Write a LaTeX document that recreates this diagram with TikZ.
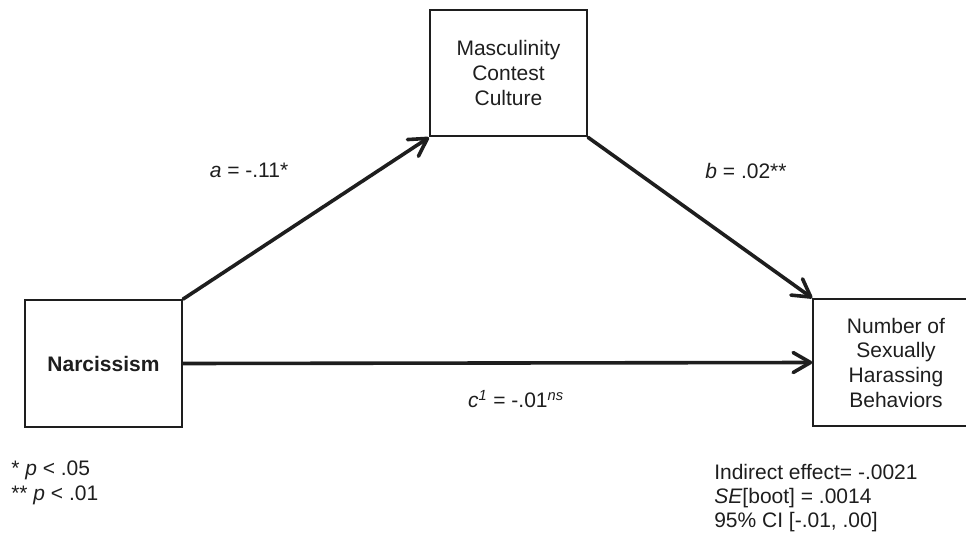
\documentclass[tikz,border=0pt]{standalone}
\usepackage{fontspec}
\setmainfont{Liberation Sans}
\usetikzlibrary{arrows.meta}
\definecolor{ink}{RGB}{30,30,30}

\tikzset{
  varbox/.style={draw=ink, line width=1.6pt, minimum width=117.75pt, minimum height=95pt, align=center, inner sep=0pt, text=ink},
  effect/.style={draw=ink, line width=2.7pt, line cap=round, -{Straight Barb[round,length=13pt,width=15pt]}},
  lbl/.style={inner sep=0.75pt, text=ink}
}

\begin{document}
\begin{tikzpicture}[x=0.75pt,y=0.75pt,yscale=-1,xscale=1, font=\fontsize{15.75}{18.5}\selectfont]

\clip (0,0) rectangle (966,538);

% the three boxes
\draw (103.5,363.5) node (narc) [varbox] {\bfseries Narcissism};
\draw (508.5,73) node (mcc) [varbox] {Masculinity\\Contest\\Culture};
\draw (896,362.5) node (nshb) [varbox, minimum width=124pt] {Number of\\Sexually\\Harassing\\Behaviors};

% paths
\draw [effect] (narc.north east) -- (mcc.south west);
\draw [effect] (mcc.south east) -- (nshb.north west);
\draw [effect] (narc.east) -- (nshb.west);

% coefficients
\draw (249,170) node (alab) [lbl] {\textit{a} = -.11*};
\draw (746,171) node (blab) [lbl] {\textit{b} = .02**};
\draw (516,399) node (clab) [lbl] {\textit{c}\textsuperscript{\textit{1}} = -.01\textsuperscript{\textit{ns}}};

% notes
\draw (10,483) node (signote) [lbl, anchor=west, align=left] {* \textit{p} < .05\\** \textit{p} < .01};
\draw (713,498) node (indnote) [lbl, anchor=west, align=left, font=\fontsize{15.75}{18}\selectfont] {Indirect effect= -.0021\\\textit{SE}[boot] = .0014\\95\% CI [-.01, .00]};

\end{tikzpicture}
\end{document}
